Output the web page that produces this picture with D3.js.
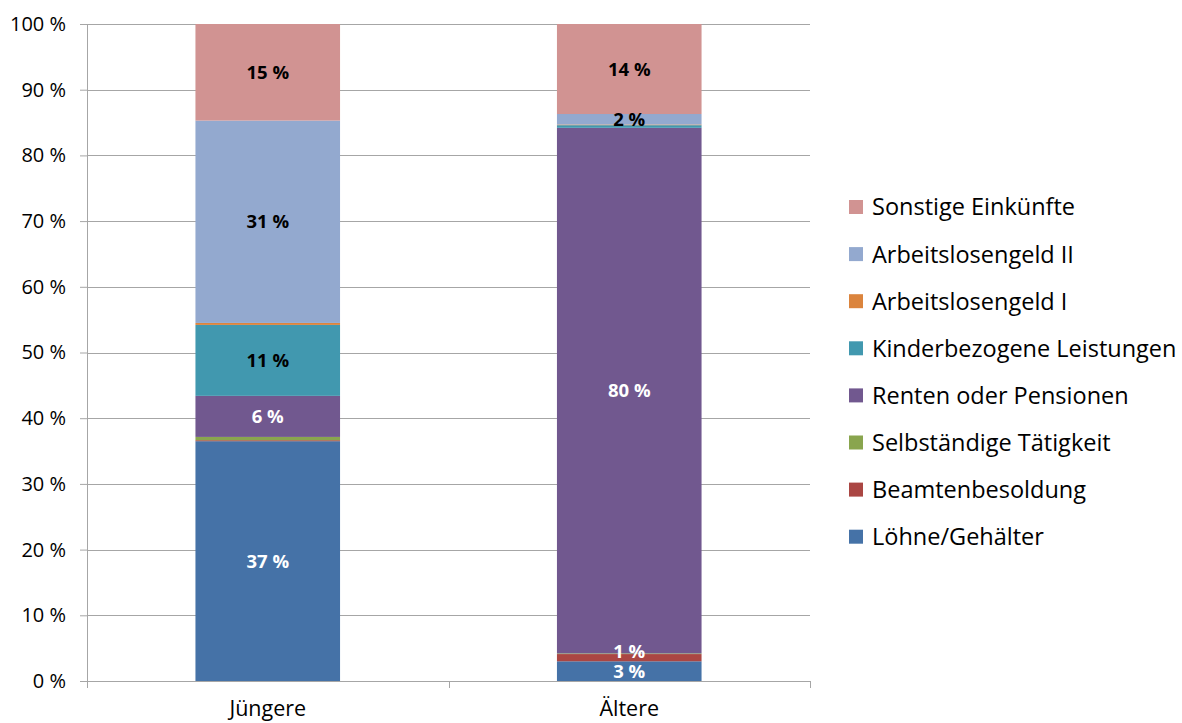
<!DOCTYPE html>
<html>
<head>
<meta charset="utf-8">
<script src="https://cdn.jsdelivr.net/npm/d3@7"></script>
<style>
  body { margin: 0; background: #fff; }
  svg text { font-family: "Open Sans", Lato, sans-serif; }
</style>
</head>
<body>
<svg id="chart" width="1182" height="723"></svg>
<script>
// categories (x axis)
var categories = ["Jüngere", "Ältere"];

// series, bottom to top of the stack
var seriesNames = [
  "Löhne/Gehälter",
  "Beamtenbesoldung",
  "Selbständige Tätigkeit",
  "Renten oder Pensionen",
  "Kinderbezogene Leistungen",
  "Arbeitslosengeld I",
  "Arbeitslosengeld II",
  "Sonstige Einkünfte"
];
var seriesColors = ["#4572a7", "#aa4643", "#89a54e", "#71588f", "#4198af", "#db843d", "#93a9cf", "#d19392"];
// label text colour per series (white on the dark ones)
var labelColors = ["#fff", "#fff", "#fff", "#fff", "#000", "#000", "#000", "#000"];

// shares in percent, one value per category
var loehne      = [36.5, 3.0];
var beamten     = [0.15, 1.1];
var selbst      = [0.5, 0.1];
var renten      = [6.25, 80.0];
var kinder      = [10.8, 0.4];
var alg1        = [0.3, 0.1];
var alg2        = [30.8, 1.6];
var sonstige    = [14.7, 13.7];

var yTicks = [0, 10, 20, 30, 40, 50, 60, 70, 80, 90, 100];

var seriesValues = [loehne, beamten, selbst, renten, kinder, alg1, alg2, sonstige];

// build rows for d3.stack
var rows = categories.map(function(c, i) {
  var r = { cat: c };
  seriesNames.forEach(function(s, j) { r[s] = seriesValues[j][i]; });
  return r;
});

var svg = d3.select("#chart");
var margin = { left: 87, right: 372, top: 24, bottom: 42 };
var width = 1182 - margin.left - margin.right;   // 723
var height = 723 - margin.top - margin.bottom;  // 657

var g = svg.append("g").attr("transform", "translate(" + margin.left + "," + margin.top + ")");

var x = d3.scaleBand().domain(categories).range([0, width]).paddingInner(0.6).paddingOuter(0.3);
var y = d3.scaleLinear().domain([0, 100]).range([height, 0]);

// gridlines
g.append("g")
  .selectAll("line")
  .data(yTicks.slice(1))
  .enter().append("line")
  .attr("x1", 0).attr("x2", width)
  .attr("y1", function(d) { return Math.round(y(d)) + 0.5; })
  .attr("y2", function(d) { return Math.round(y(d)) + 0.5; })
  .attr("stroke", "#a6a6a6").attr("stroke-width", 1);

var stack = d3.stack().keys(seriesNames);
var layers = stack(rows);

var layer = g.selectAll(".layer")
  .data(layers)
  .enter().append("g")
  .attr("class", "layer")
  .attr("fill", function(d, i) { return seriesColors[i]; });

layer.selectAll("rect")
  .data(function(d) { return d; })
  .enter().append("rect")
  .attr("x", function(d) { return x(d.data.cat); })
  .attr("width", x.bandwidth())
  .attr("y", function(d) { return y(d[1]); })
  .attr("height", function(d) { return y(d[0]) - y(d[1]); });

// value labels, only for segments of at least 1 %
// labels that would collide with the one below get pushed up a bit
var lastLabelY = {};
layers.forEach(function(l, i) {
  l.forEach(function(d) {
    var v = d[1] - d[0];
    if (v < 1) return;
    var cat = d.data.cat;
    var ly = y((d[0] + d[1]) / 2);
    if (lastLabelY[cat] !== undefined && ly > lastLabelY[cat] - 20) ly = lastLabelY[cat] - 20;
    lastLabelY[cat] = ly;
    g.append("text")
      .attr("x", x(cat) + x.bandwidth() / 2)
      .attr("y", ly)
      .attr("dy", "0.36em")
      .attr("text-anchor", "middle")
      .attr("font-size", 18.5)
      .attr("font-weight", "bold")
      .attr("fill", labelColors[i])
      .text(Math.round(v) + " %");
  });
});

// y axis
var yAxis = g.append("g")
  .call(d3.axisLeft(y).tickValues(yTicks).tickSize(7).tickPadding(14)
    .tickFormat(function(d) { return d + " %"; }));
yAxis.select(".domain").attr("d", "M0.5," + height + "V0").attr("stroke", "#a6a6a6");
yAxis.selectAll(".tick line").attr("stroke", "#a6a6a6");
yAxis.selectAll(".tick text").attr("font-size", 20).attr("fill", "#000")
  .attr("font-family", "'Open Sans', sans-serif");

// x axis
var xAxis = g.append("g")
  .attr("transform", "translate(0," + height + ")")
  .call(d3.axisBottom(x).tickSize(0).tickPadding(20));
xAxis.select(".domain").remove();
xAxis.selectAll(".tick text").attr("font-size", 21.5).attr("fill", "#000")
  .attr("font-family", "'Open Sans', sans-serif");
g.append("line")
  .attr("x1", -7).attr("x2", width)
  .attr("y1", height + 0.5).attr("y2", height + 0.5)
  .attr("stroke", "#a6a6a6");
[0, width / 2, width].forEach(function(px) {
  g.append("line")
    .attr("x1", Math.round(px) + 0.5).attr("x2", Math.round(px) + 0.5)
    .attr("y1", height).attr("y2", height + 7)
    .attr("stroke", "#a6a6a6");
});

// legend, top entry is the top of the stack
var legend = svg.append("g").attr("transform", "translate(849,207)");
var legendOrder = seriesNames.slice().reverse();
var item = legend.selectAll(".item")
  .data(legendOrder)
  .enter().append("g")
  .attr("class", "item")
  .attr("transform", function(d, i) { return "translate(0," + (i * 47.1) + ")"; });
item.append("rect")
  .attr("x", 0).attr("y", -7).attr("width", 14).attr("height", 14)
  .attr("fill", function(d) { return seriesColors[seriesNames.indexOf(d)]; });
item.append("text")
  .attr("x", 23).attr("dy", "0.36em")
  .attr("font-size", 23.5)
  .attr("fill", "#000")
  .text(function(d) { return d; });
</script>
</body>
</html>
